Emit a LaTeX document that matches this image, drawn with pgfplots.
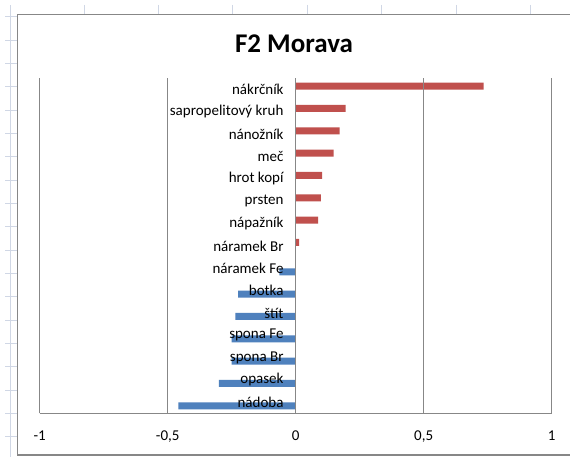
\documentclass[border=0pt]{standalone}
\usepackage{fontspec}
\setmainfont{Carlito}
\usepackage{pgfplots}
\pgfplotsset{compat=1.18}
\definecolor{redbar}{HTML}{C0504D}
\definecolor{bluebar}{HTML}{4F81BD}
\definecolor{gridgray}{HTML}{878787}
\definecolor{sheet}{HTML}{D0D7E5}
\begin{document}
\begin{tikzpicture}[x=1pt,y=1pt]
\useasboundingbox (0,0) rectangle (570,457);
\fill[white] (0,0) rectangle (570,457);
% spreadsheet background lines
\draw[sheet, line width=0.8pt] (10,0) -- (10,452);
\foreach \r in {0,...,18} {\draw[sheet, line width=0.8pt] (5,{457-16.7-23.33*\r}) -- (17,{457-16.7-23.33*\r});}
\foreach \c in {0,...,6} {\draw[sheet, line width=0.8pt] ({84+74.4*\c},452) -- ({84+74.4*\c},442.7);}
% chart frame
\draw[gridgray, line width=1.2pt] (575,442.7) -- (17.3,442.7) -- (17.3,2) -- (575,2);
\begin{axis}[
  at={(39.7pt,43.5pt)}, anchor=south west,
  scale only axis, width=512pt, height=335pt,
  xmin=-1, xmax=1, ymin=0.5, ymax=15.5,
  axis on top,
  axis x line*=bottom, axis y line*=left,
  y axis line style={draw=none},
  x axis line style={gridgray, line width=1pt},
  xmajorgrids, grid style={gridgray, line width=1pt},
  xtick={-1,-0.5,0,0.5,1},
  xticklabels={-1,{-0,5},0,{0,5},1},
  major tick length=0pt,
  ytick={1,...,15},
  yticklabels={nádoba,opasek,spona Br,spona Fe,štít,botka,náramek Fe,náramek Br,nápažník,prsten,hrot kopí,meč,nánožník,sapropelitový kruh,nákrčník},
  tick label style={font=\fontsize{15}{17}\selectfont, text=black},
  y tick label style={inner sep=0pt, anchor=east, xshift=244pt},
  x tick label style={inner sep=0pt, anchor=north, yshift=-17.5pt},
  xbar, bar width=7pt,
  clip=false,
]
\addplot[fill=redbar, draw=none, bar shift=3.5pt] coordinates {
 (0.734,15) (0.195,14) (0.172,13) (0.148,12) (0.103,11) (0.098,10) (0.088,9) (0.013,8)};
\addplot[fill=bluebar, draw=none, bar shift=-3.5pt] coordinates {
 (-0.064,7) (-0.225,6) (-0.236,5) (-0.25,4) (-0.25,3) (-0.30,2) (-0.458,1)};
\end{axis}
\node[anchor=base, font=\fontsize{27}{31}\selectfont\bfseries, inner sep=0pt] at (294,404.7) {F2 Morava};
\end{tikzpicture}
\end{document}
